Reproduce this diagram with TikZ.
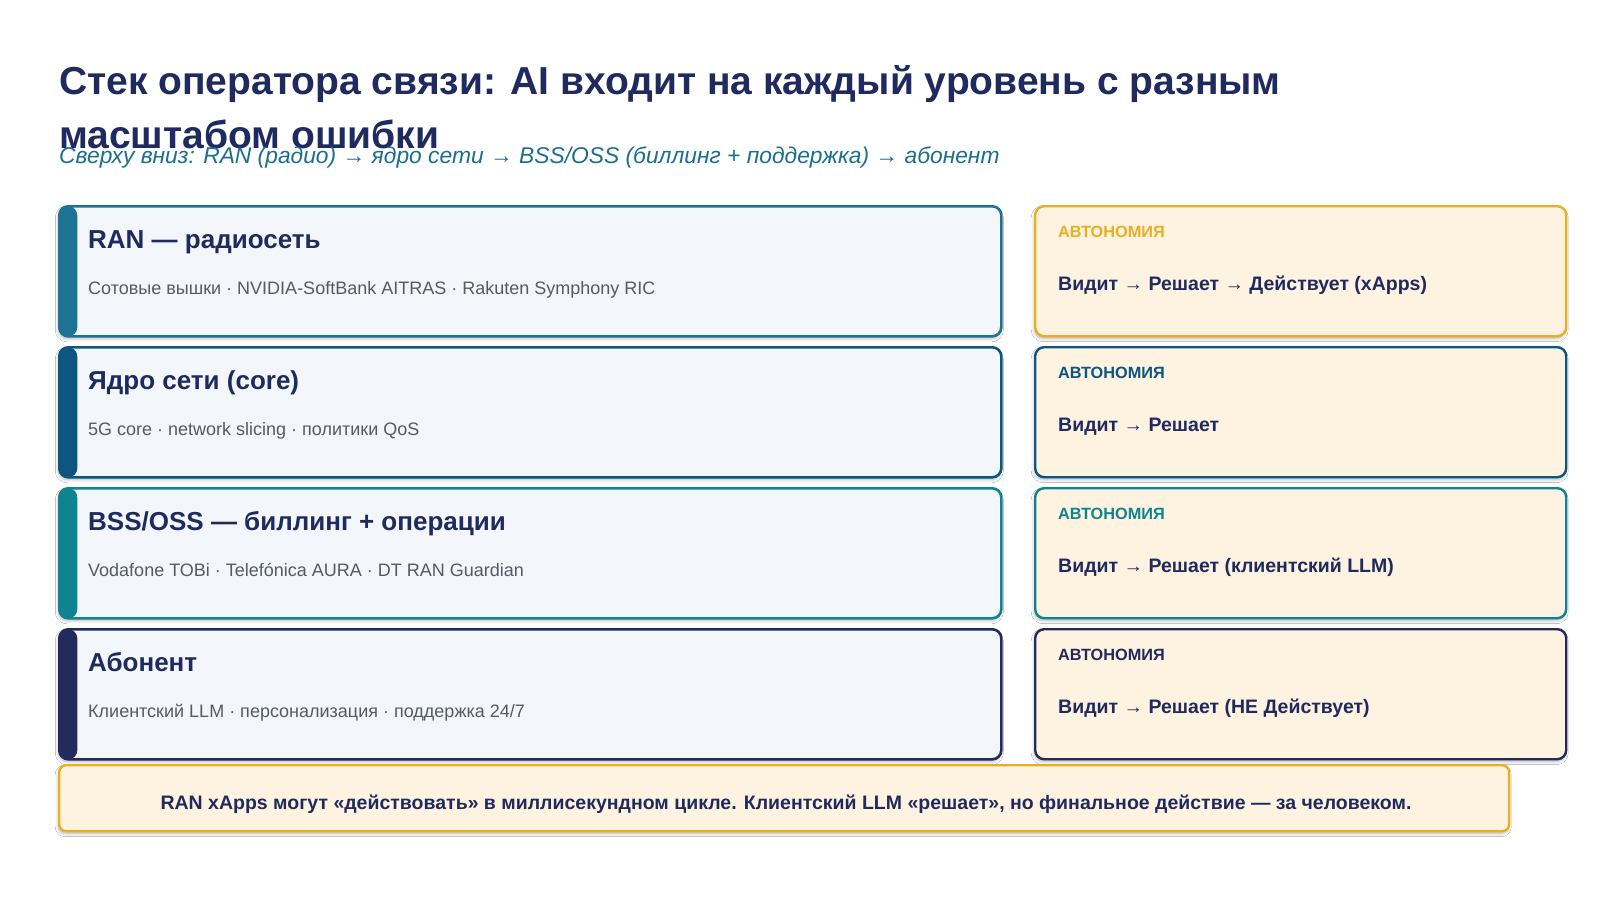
\documentclass[tikz,border=0pt]{standalone}
\usepackage{fontspec}
\setmainfont{Liberation Sans}
\usetikzlibrary{shadows.blur}
\definecolor{navy}{HTML}{1F2A5E}
\definecolor{subc}{HTML}{1B6F8C}
\definecolor{cA}{HTML}{1E7294}
\definecolor{cB}{HTML}{0D5680}
\definecolor{cC}{HTML}{0F8490}
\definecolor{cD}{HTML}{232A5C}
\definecolor{gold}{HTML}{E8B021}
\definecolor{lfill}{HTML}{F3F6FA}
\definecolor{rfill}{HTML}{FDF3E0}
\definecolor{grayt}{HTML}{555B66}
\begin{document}
\begin{tikzpicture}[x=1pt,y=-1pt,
  shd/.style={blur shadow={shadow xshift=-1pt,shadow yshift=-2.5pt,shadow opacity=28,shadow blur radius=3pt}},
  lbox/.style={draw=#1, line width=2.6pt, rounded corners=9pt, fill=lfill,
    minimum width=942pt, minimum height=130pt, anchor=north west, inner sep=0pt, shd,
    path picture={\fill[#1] (path picture bounding box.north west) rectangle ([xshift=18pt]path picture bounding box.south west);}},
  rbox/.style={draw=#1, line width=2.4pt, rounded corners=9pt, fill=rfill,
    minimum width=531pt, minimum height=130pt, anchor=north west, inner sep=0pt, shd},
  ttl/.style={anchor=base west, inner sep=0pt, text=navy, font=\fontsize{39}{44}\selectfont\bfseries},
  subt/.style={anchor=base west, inner sep=0pt, text=subc, font=\fontsize{22.8}{27}\selectfont\itshape},
  bt/.style={anchor=base west, inner sep=0pt, text=navy, font=\fontsize{26}{30}\selectfont\bfseries},
  bs/.style={anchor=base west, inner sep=0pt, text=grayt, font=\fontsize{18}{22}\selectfont},
  at/.style={anchor=base west, inner sep=0pt, text=#1, font=\fontsize{16.3}{20}\selectfont\bfseries},
  av/.style={anchor=base west, inner sep=0pt, text=navy, font=\fontsize{19.5}{24}\selectfont\bfseries}
]
\useasboundingbox[fill=white] (0,0) rectangle (1600,900);

\node[ttl] (title1) at (59,94) {Стек оператора связи: AI входит на каждый уровень с разным};
\node[ttl] (title2) at (59,148) {масштабом ошибки};
\node[subt] (subtitle) at (59,163) {Сверху вниз: RAN (радио) → ядро сети → BSS/OSS (биллинг + поддержка) → абонент};

% left boxes
\node[lbox=cA] (b1) at (58,205) {};
\node[lbox=cB] (b2) at (58,346) {};
\node[lbox=cC] (b3) at (58,487) {};
\node[lbox=cD] (b4) at (58,628) {};

\node[bt] (t1) at (88,248) {RAN — радиосеть};
\node[bs] (s1) at (88,294) {Сотовые вышки · NVIDIA-SoftBank AITRAS · Rakuten Symphony RIC};
\node[bt] (t2) at (88,389) {Ядро сети (core)};
\node[bs] (s2) at (88,435) {5G core · network slicing · политики QoS};
\node[bt] (t3) at (88,530) {BSS/OSS — биллинг + операции};
\node[bs] (s3) at (88,576) {Vodafone TOBi · Telefónica AURA · DT RAN Guardian};
\node[bt] (t4) at (88,671) {Абонент};
\node[bs] (s4) at (88,717) {Клиентский LLM · персонализация · поддержка 24/7};

% right boxes
\node[rbox=gold] (r1) at (1034,205) {};
\node[rbox=cB] (r2) at (1034,346) {};
\node[rbox=cC] (r3) at (1034,487) {};
\node[rbox=cD] (r4) at (1034,628) {};

\node[at=gold] (a1) at (1058,237) {АВТОНОМИЯ};
\node[av] (v1) at (1058,290) {Видит → Решает → Действует (xApps)};
\node[at=cB] (a2) at (1058,378) {АВТОНОМИЯ};
\node[av] (v2) at (1058,431) {Видит → Решает};
\node[at=cC] (a3) at (1058,519) {АВТОНОМИЯ};
\node[av] (v3) at (1058,572) {Видит → Решает (клиентский LLM)};
\node[at=cD] (a4) at (1058,660) {АВТОНОМИЯ};
\node[av] (v4) at (1058,713) {Видит → Решает (НЕ Действует)};

% bottom note
\node[draw=gold, line width=2.4pt, rounded corners=7pt, fill=rfill, shd,
  minimum width=1450pt, minimum height=66pt, anchor=north west, inner sep=0pt] (note) at (58,764) {};
\node[anchor=base, inner sep=0pt, text=navy, font=\fontsize{19.5}{23}\selectfont\bfseries] (notetext) at (786,809)
  {RAN xApps могут «действовать» в миллисекундном цикле. Клиентский LLM «решает», но финальное действие — за человеком.};
\end{tikzpicture}
\end{document}
